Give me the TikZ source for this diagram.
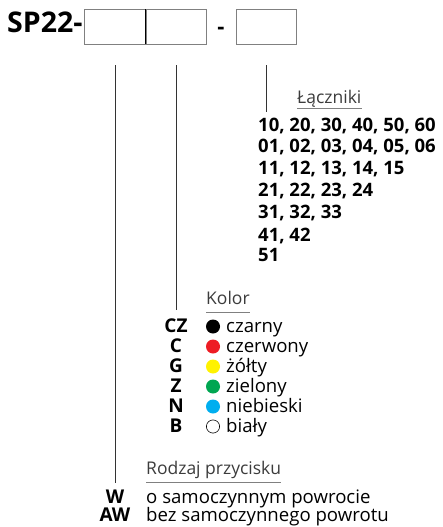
\documentclass[tikz,border=0pt]{standalone}
\usepackage{fontspec}
\setmainfont{Open Sans}
\usetikzlibrary{positioning}

\definecolor{czerwony}{HTML}{ED1C24}
\definecolor{zolty}{HTML}{FFF200}
\definecolor{zielony}{HTML}{00A651}
\definecolor{niebieski}{HTML}{00AEEF}
\definecolor{szary}{HTML}{3C3C3C}

\begin{document}
\begin{tikzpicture}[x=1pt,y=1pt,yscale=-1,
  pole/.style={draw=gray,line width=0.8,minimum width=60.5pt,minimum height=34.5pt,inner sep=0pt},
  naglowek/.style={font=\fontsize{17.5}{17.5}\selectfont,text=szary,inner sep=0pt,anchor=base west},
  podkr/.style={draw=gray,line width=0.9},
  kod/.style={font=\bfseries\fontsize{19}{19}\selectfont,inner sep=0pt,anchor=base},
  opis/.style={font=\fontsize{18.6}{18.6}\selectfont,inner sep=0pt,anchor=base west},
  numery/.style={font=\bfseries\fontsize{18.5}{18.5}\selectfont,inner sep=0pt,anchor=base west},
  linia/.style={draw=black!80,line width=0.8},
]
  \useasboundingbox (0,0) rectangle (443,527);

  % oznaczenie
  \node[font=\bfseries\fontsize{28.5}{28.5}\selectfont,inner sep=0pt,anchor=base west] (sp) at (7,33) {SP22-};
  \node[pole] (p1) at (115,26.75) {};
  \node[pole,right=0pt of p1] (p2) {};
  \node[font=\bfseries\fontsize{22}{22}\selectfont,inner sep=0pt,anchor=base] (kreska) at (221,35) {-};
  \node[pole] (p3) at (266.5,26.75) {};
  \draw[black,line width=0.9] (p1.north east) -- (p1.south east);

  % laczniki
  \node[naglowek] (lacz) at (297,103) {Łączniki};
  \draw[podkr] ([yshift=5pt]lacz.base west) -- ([yshift=5pt]lacz.base east);
  \foreach \txt/\y in {{10, 20, 30, 40, 50, 60}/131,{01, 02, 03, 04, 05, 06}/152.5,
      {11, 12, 13, 14, 15}/174,{21, 22, 23, 24}/196,{31, 32, 33}/218,{41, 42}/241,{51}/261}
    \node[numery] at (258,\y) {\txt};

  % kolor
  \node[naglowek] (kolor) at (206,304) {Kolor};
  \draw[podkr] ([yshift=8pt]kolor.base west) -- ([yshift=8pt]kolor.base east);
  \foreach \k/\c/\n [count=\i from 0] in {CZ/black/czarny,C/czerwony/czerwony,G/zolty/żółty,
      Z/zielony/zielony,N/niebieski/niebieski,B/white/biały}{
    \node[kod] (k\i) at (176,332+20*\i) {\k};
    \fill[\c] (213,326.5+20*\i) circle (7);
    \node[opis] (n\i) at (226,332+20*\i) {\n};
  }
  \draw[black,line width=0.6] (213,426.5) circle (6.6);

  % rodzaj przycisku
  \node[naglowek] (rodzaj) at (146,474) {Rodzaj przycisku};
  \draw[podkr] ([yshift=8pt]rodzaj.base west) -- ([yshift=8pt]rodzaj.base east);
  \node[kod] (w) at (115,503) {W};
  \node[opis] (wopis) at (146,503) {o samoczynnym powrocie};
  \node[kod] (aw) at (115,521) {AW};
  \node[opis] (awopis) at (146,521) {bez samoczynnego powrotu};

  % linie
  \draw[linia] (p1.south) ++(0,21) coordinate (l1) -- (l1 |- 0,483);
  \draw[linia] (p2.south) ++(0,21) coordinate (l2) -- (l2 |- 0,310);
  \draw[linia] (p3.south) ++(0,21) coordinate (l3) -- (l3 |- 0,112);
\end{tikzpicture}
\end{document}
